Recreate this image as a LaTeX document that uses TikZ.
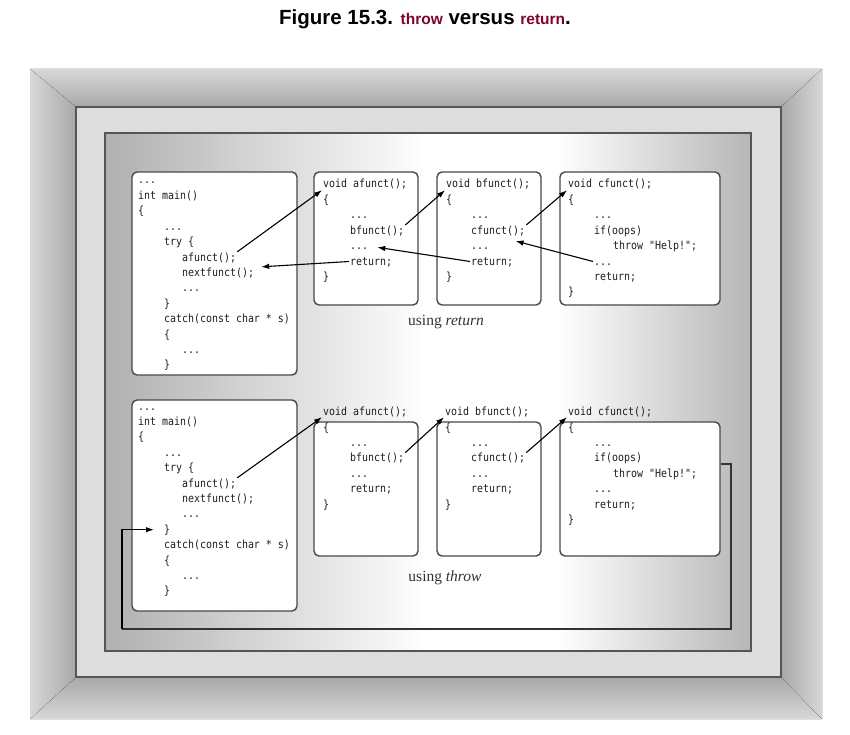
\documentclass[tikz,border=0pt]{standalone}
\usepackage{fontspec}
\usepackage{tikz}
\usetikzlibrary{arrows.meta}
\newfontfamily\codefont[FakeStretch=0.88]{DejaVu Sans Mono}
\newfontfamily\titlefont{Liberation Sans}
\newfontfamily\labelfont{Liberation Serif}
\definecolor{bevlight}{HTML}{D8D8D8}
\definecolor{bevdark}{HTML}{A8A8A8}
\definecolor{framefill}{HTML}{DDDDDD}
\definecolor{frameline}{HTML}{555555}
\definecolor{pleft}{HTML}{B0B0B0}
\definecolor{pright}{HTML}{B6B6B6}
\definecolor{boxline}{HTML}{484848}
\definecolor{codetxt}{HTML}{1E1E1E}
\definecolor{titlered}{RGB}{125,5,45}
\pgfdeclarehorizontalshading{panelshade}{100bp}{color(0bp)=(pleft); color(25bp)=(pleft); color(50bp)=(white); color(60bp)=(white); color(75bp)=(pright); color(100bp)=(pright)}

\begin{document}
\begin{tikzpicture}[x=1pt, y=-1pt,
		codebox/.style ={draw = boxline, line width=1.4pt, fill=white, rounded corners=5pt, inner sep=0pt},
		code/.style ={anchor=base west, inner sep=1pt, text height=8pt, text depth=1pt, text=codetxt, font=\codefont\fontsize{11.3}{13}\selectfont},
		usinglbl/.style ={anchor=base, inner sep=0pt, text=black!80, font=\labelfont\fontsize{15.5}{18}\selectfont},
		arr/.style ={-{Latex[length=8pt,width=5.5pt]}, line width=1.1pt, black},
		loopline/.style ={line width=1.2pt, draw=black!80}]
		\def\dy{15.4};
		\useasboundingbox (0,0) rectangle (850,735);
		% title
		\node[anchor=base] (title) at (425,25) {\titlefont\fontsize{20.5}{24}\selectfont\bfseries Figure 15.3. {\fontsize{15.5}{18}\selectfont\color{titlered}throw} versus {\fontsize{15.5}{18}\selectfont\color{titlered}return}.};
		% frame
		\fill[top color=bevlight, bottom color=bevdark] (30,69) -- (822,69) -- (781,107) -- (76,107) -- cycle;
		\fill[top color=bevdark, bottom color=bevlight] (30,719) -- (822,719) -- (781,677) -- (76,677) -- cycle;
		\fill[left color=bevlight, right color=bevdark] (30,69) -- (76,107) -- (76,677) -- (30,719) -- cycle;
		\fill[left color=bevdark, right color=bevlight] (822,69) -- (781,107) -- (781,677) -- (822,719) -- cycle;
		\draw[frameline, line width=1.5pt, fill=framefill] (76,107) rectangle (781,677);
		\shadedraw[shading=panelshade, draw=frameline, line width=1.5pt] (105,133) rectangle (751,651);
		% boxes
		\node[codebox, minimum width=165, minimum height=203] (m1box) at (214.5,273.5) {};
		\node[codebox, minimum width=104, minimum height=133] (a1box) at (366,238.5) {};
		\node[codebox, minimum width=104, minimum height=133] (b1box) at (489,238.5) {};
		\node[codebox, minimum width=160, minimum height=133] (c1box) at (640,238.5) {};
		\node[codebox, minimum width=165, minimum height=211] (m2box) at (214.5,505.5) {};
		\node[codebox, minimum width=104, minimum height=134] (a2box) at (366,489) {};
		\node[codebox, minimum width=104, minimum height=134] (b2box) at (489,489) {};
		\node[codebox, minimum width=160, minimum height=134] (c2box) at (640,489) {};
		% using return: main
		\node[code] (m1d1) at (137,184) {...};
		\node[code] (m1int) at (137,184+\dy) {int main()};
		\node[code] (m1o) at (137,184+2*\dy) {\{};
		\node[code] (m1d2) at (163,184+3*\dy) {...};
		\node[code] (m1try) at (163,184+4*\dy) {try \{};
		\node[code] (m1af) at (181,184+5*\dy) {afunct();};
		\node[code] (m1nf) at (181,184+6*\dy) {nextfunct();};
		\node[code] (m1d3) at (181,184+7*\dy) {...};
		\node[code] (m1tc) at (163,184+8*\dy) {\}};
		\node[code] (m1ca) at (163,184+9*\dy) {catch(const char * s)};
		\node[code] (m1co) at (163,184+10*\dy) {\{};
		\node[code] (m1d4) at (181,184+11*\dy) {...};
		\node[code] (m1cc) at (163,184+12*\dy) {\}};
		% using return: afunct
		\node[code] (a1v) at (322,188) {void afunct();};
		\node[code] (a1o) at (322,188+\dy) {\{};
		\node[code] (a1d1) at (349,188+2*\dy) {...};
		\node[code] (a1bf) at (349,188+3*\dy) {bfunct();};
		\node[code] (a1d2) at (349,188+4*\dy) {...};
		\node[code] (a1ret) at (349,188+5*\dy) {return;};
		\node[code] (a1c) at (322,188+6*\dy) {\}};
		% using return: bfunct
		\node[code] (b1v) at (445,188) {void bfunct();};
		\node[code] (b1o) at (445,188+\dy) {\{};
		\node[code] (b1d1) at (470,188+2*\dy) {...};
		\node[code] (b1cf) at (470,188+3*\dy) {cfunct();};
		\node[code] (b1d2) at (470,188+4*\dy) {...};
		\node[code] (b1ret) at (470,188+5*\dy) {return;};
		\node[code] (b1c) at (445,188+6*\dy) {\}};
		% using return: cfunct
		\node[code] (c1v) at (567,188) {void cfunct();};
		\node[code] (c1o) at (567,188+\dy) {\{};
		\node[code] (c1d1) at (593,188+2*\dy) {...};
		\node[code] (c1if) at (593,188+3*\dy) {if(oops)};
		\node[code] (c1th) at (612,188+4*\dy) {throw "Help!";};
		\node[code] (c1d2) at (593,188+5*\dy) {...};
		\node[code] (c1ret) at (593,188+6*\dy) {return;};
		\node[code] (c1c) at (567,188+7*\dy) {\}};
		\node[usinglbl] (lret) at (446,325) {using \textit{return}};
		% using throw: main
		\node[code] (m2d1) at (137,410) {...};
		\node[code] (m2int) at (137,410+\dy) {int main()};
		\node[code] (m2o) at (137,410+2*\dy) {\{};
		\node[code] (m2d2) at (163,410+3*\dy) {...};
		\node[code] (m2try) at (163,410+4*\dy) {try \{};
		\node[code] (m2af) at (181,410+5*\dy) {afunct();};
		\node[code] (m2nf) at (181,410+6*\dy) {nextfunct();};
		\node[code] (m2d3) at (181,410+7*\dy) {...};
		\node[code] (m2tc) at (163,410+8*\dy) {\}};
		\node[code] (m2ca) at (163,410+9*\dy) {catch(const char * s)};
		\node[code] (m2co) at (163,410+10*\dy) {\{};
		\node[code] (m2d4) at (181,410+11*\dy) {...};
		\node[code] (m2cc) at (163,410+12*\dy) {\}};
		% using throw: afunct
		\node[code] (a2v) at (322,415) {void afunct();};
		\node[code] (a2o) at (322,431) {\{};
		\node[code] (a2d1) at (349,431+\dy) {...};
		\node[code] (a2bf) at (349,431+2*\dy) {bfunct();};
		\node[code] (a2d2) at (349,431+3*\dy) {...};
		\node[code] (a2ret) at (349,431+4*\dy) {return;};
		\node[code] (a2c) at (322,431+5*\dy) {\}};
		% using throw: bfunct
		\node[code] (b2v) at (444,415) {void bfunct();};
		\node[code] (b2o) at (444,431) {\{};
		\node[code] (b2d1) at (470,431+\dy) {...};
		\node[code] (b2cf) at (470,431+2*\dy) {cfunct();};
		\node[code] (b2d2) at (470,431+3*\dy) {...};
		\node[code] (b2ret) at (470,431+4*\dy) {return;};
		\node[code] (b2c) at (444,431+5*\dy) {\}};
		% using throw: cfunct
		\node[code] (c2v) at (567,415) {void cfunct();};
		\node[code] (c2o) at (567,431) {\{};
		\node[code] (c2d1) at (593,431+\dy) {...};
		\node[code] (c2if) at (593,431+2*\dy) {if(oops)};
		\node[code] (c2th) at (612,431+3*\dy) {throw "Help!";};
		\node[code] (c2d2) at (593,431+4*\dy) {...};
		\node[code] (c2ret) at (593,431+5*\dy) {return;};
		\node[code] (c2c) at (567,431+6*\dy) {\}};
		\node[usinglbl] (lthr) at (445,581) {using \textit{throw}};
		% calls and returns
		\draw[arr] (m1af.north east) -- (a1v.south west);
		\draw[arr] (a1bf.north east) -- (b1v.south west);
		\draw[arr] (b1cf.north east) -- (c1v.south west);
		\draw[arr, shorten >=6pt] (a1ret.west) -- (m1nf.north east);
		\draw[arr, shorten >=8pt] (b1ret.west) -- (a1d2.east);
		\draw[arr, shorten >=18pt] (c1d2.west) -- (b1cf.south);
		\draw[arr] (m2af.north east) -- (a2v.south west);
		\draw[arr] (a2bf.north east) -- (b2v.south west);
		\draw[arr] (b2cf.north east) -- (c2v.south west);
		% throw goes back to the catch
		\coordinate (loopse) at (731,629);
		\coordinate (loopsw) at (122,629);
		\draw[loopline] (c2box.east |- c2if.south) -| (loopse) -- (loopsw);
		\draw[loopline, arr, shorten >=9pt] (loopsw) |- (m2tc.west);
	\end{tikzpicture}
\end{document}
